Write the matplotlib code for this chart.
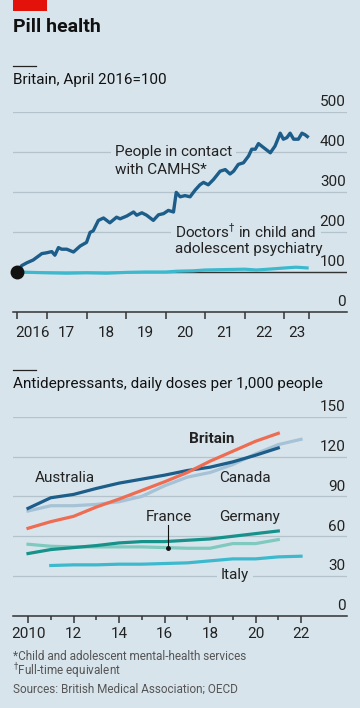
import matplotlib.pyplot as plt
from matplotlib.ticker import FixedLocator
import matplotlib.transforms as mtransforms

plt.rcParams['font.family'] = ['Liberation Sans Narrow', 'Roboto', 'DejaVu Sans']

BG = '#D8E4EC'
GRID = '#B4C2CB'
TXT = '#222222'

# --- top panel: Britain, April 2016 = 100
camhs_year = [2016.25, 2016.36, 2016.49, 2016.65, 2016.87, 2016.99, 2017.12, 2017.20, 2017.29,
              2017.37, 2017.50, 2017.67, 2017.84, 2018.00, 2018.09, 2018.17, 2018.30, 2018.43,
              2018.59, 2018.76, 2018.85, 2019.02, 2019.19, 2019.27, 2019.40, 2019.52, 2019.69,
              2019.82, 2019.95, 2020.07, 2020.20, 2020.27, 2020.37, 2020.49, 2020.62, 2020.75,
              2020.87, 2020.96, 2021.08, 2021.21, 2021.38, 2021.51, 2021.63, 2021.72, 2021.84,
              2021.97, 2022.10, 2022.18, 2022.27, 2022.35, 2022.48, 2022.65, 2022.77, 2022.90,
              2022.98, 2023.07, 2023.15, 2023.24, 2023.36, 2023.45, 2023.53, 2023.62]
camhs_val = [100, 116, 123, 130, 146, 148, 151, 142, 161,
             157, 157, 150, 165, 174, 199, 203, 229, 235,
             223, 237, 233, 240, 250, 242, 248, 242, 229,
             243, 246, 254, 250, 299, 288, 291, 288, 305,
             318, 324, 318, 331, 352, 356, 345, 352, 369,
             373, 390, 407, 407, 421, 411, 398, 415, 447,
             432, 436, 447, 432, 432, 447, 443, 436]

doctors_year = [2016.25, 2016.6, 2017.0, 2017.5, 2018.0, 2018.5, 2019.0, 2019.5, 2020.0,
                2020.3, 2020.7, 2021.0, 2021.5, 2022.0, 2022.3, 2022.6, 2023.0, 2023.3, 2023.62]
doctors_val = [100, 99, 98, 97, 98, 97, 99, 100, 100,
               102, 103, 105, 106, 107, 105, 107, 110, 112, 110]

top_yticks = [0, 100, 200, 300, 400, 500]
top_xticks = [2016.25, 2017, 2018, 2019, 2020, 2021, 2022, 2023, 2023.62]
top_xlabels = ['2016', '17', '18', '19', '20', '21', '22', '23']

# --- bottom panel: antidepressants, daily doses per 1,000 people
years = list(range(2010, 2023))
australia = [81, 89, 91.5, 96, 100, 103, 106, 109.5, 112, 116, 121, 126.5]
canada = [79, 83, 83, 84, 86, 90, 98, 104.5, 108, 114, 122, 129, 133]
britain = [66, 71, 75, 82, 88, 94.5, 101, 108, 116.5, 124, 131.5, 137.5]
germany = [47, 50, 51.5, 53, 55, 56, 56, 57, 58, 60, 62, 64]
france = [54, 52.5, 52, 52, 52, 52, 51.5, 51, 51, 54.5, 54.5, 57.5]
italy_years = list(range(2011, 2023))
italy = [38, 38.5, 38.5, 39, 39, 39.5, 40, 41.5, 43, 43, 44.5, 45]

bot_yticks = [0, 30, 60, 90, 120, 150]
bot_xticks = [2010, 2012, 2014, 2016, 2018, 2020, 2022]
bot_xlabels = ['2010', '12', '14', '16', '18', '20', '22']

W, H = 360, 708
fig = plt.figure(figsize=(W / 100, H / 100), dpi=100, facecolor=BG)


def px(x, y):
    return x / W, 1 - y / H


def style_axis(ax, yticks):
    ax.set_facecolor(BG)
    ax.patch.set_alpha(0)
    for s in ['left', 'right', 'top']:
        ax.spines[s].set_visible(False)
    ax.spines['bottom'].set_color('#333333')
    ax.spines['bottom'].set_linewidth(1.1)
    ax.spines['bottom'].set_zorder(5)
    ax.set_yticks(yticks)
    ax.tick_params(axis='y', length=0, labelleft=False)
    ax.grid(axis='y', color=GRID, linewidth=0.9, zorder=0)
    ax.set_axisbelow(True)
    tr = mtransforms.blended_transform_factory(ax.transAxes, ax.transData)
    off = mtransforms.offset_copy(tr, fig=fig, x=-1, y=2, units='points')
    for v in yticks:
        ax.text(1.0, v, str(v), transform=off, ha='right', va='bottom',
                fontsize=11, color=TXT)


# top chart
ax1 = fig.add_axes([13 / W, 1 - 312 / H, 334 / W, 200 / H])
style_axis(ax1, top_yticks)
ax1.set_ylim(0, 500)
ax1.set_xlim(2016.14, 2024.59)
ax1.axhline(100, color='#333333', linewidth=1.0, zorder=1)
ax1.plot(doctors_year, doctors_val, color='#3DB9CE', linewidth=2.3, zorder=3,
         solid_capstyle='butt')
ax1.plot(camhs_year, camhs_val, color='#1C5D8A', linewidth=2.4, zorder=4,
         solid_capstyle='butt')
ax1.plot([2016.25], [100], 'o', color='#111111', markersize=9, zorder=6, clip_on=False)
ax1.xaxis.set_major_locator(FixedLocator(top_xticks))
ax1.xaxis.set_minor_locator(FixedLocator(
    [(top_xticks[i] + top_xticks[i + 1]) / 2 for i in range(len(top_xticks) - 1)]))
ax1.set_xticklabels([], minor=False)
ax1.set_xticklabels(top_xlabels, minor=True)
ax1.tick_params(axis='x', which='major', length=5, width=1.1, color='#333333')
ax1.tick_params(axis='x', which='minor', length=0, pad=10, labelsize=11, labelcolor=TXT)

ax1.text(2018.72, 400, 'People in contact', fontsize=11, color=TXT, va='center',
         ha='left', zorder=2,
         bbox=dict(facecolor=BG, edgecolor='none', pad=3))
ax1.text(2018.72, 355, 'with CAMHS*', fontsize=11, color=TXT, va='center', ha='left')
ax1.text(2020.24, 200, 'Doctors$^{\\dagger}$ in child and', fontsize=11, color=TXT,
         va='center', ha='left', zorder=2,
         bbox=dict(facecolor=BG, edgecolor='none', pad=3))
ax1.text(2020.24, 157, 'adolescent psychiatry', fontsize=11, color=TXT,
         va='center', ha='left')

# bottom chart
ax2 = fig.add_axes([13 / W, 1 - 616 / H, 334 / W, 199.3 / H])
style_axis(ax2, bot_yticks)
ax2.set_ylim(0, 150)
ax2.set_xlim(2009.34, 2024.02)
lw = 2.3
ax2.plot(italy_years, italy, color='#3DB9CE', linewidth=lw, zorder=3)
ax2.plot(years[:len(france)], france, color='#7FC9BE', linewidth=lw, zorder=3)
ax2.plot(years[:len(germany)], germany, color='#16928A', linewidth=lw, zorder=3)
ax2.plot(years[:len(canada)], canada, color='#A6C2D6', linewidth=lw, zorder=3)
ax2.plot(years[:len(australia)], australia, color='#1C5D8A', linewidth=lw, zorder=3)
ax2.plot(years[:len(britain)], britain, color='#EE6C52', linewidth=lw, zorder=4)
ax2.xaxis.set_major_locator(FixedLocator(bot_xticks))
ax2.xaxis.set_minor_locator(FixedLocator(list(range(2011, 2022, 2))))
ax2.set_xticklabels(bot_xlabels)
ax2.tick_params(axis='x', which='major', length=5, width=1.1, color='#333333',
                pad=3, labelsize=11, labelcolor=TXT)
ax2.tick_params(axis='x', which='minor', length=3, width=1.1, color='#333333')

ax2.text(2018.07, 133.3, 'Britain', fontsize=11, fontweight='bold', color=TXT,
         ha='center', va='center')
ax2.text(2011.63, 104, 'Australia', fontsize=11, color=TXT, ha='center', va='center')
ax2.text(2019.52, 104, 'Canada', fontsize=11, color=TXT, ha='center', va='center')
ax2.text(2016.18, 74.5, 'France', fontsize=11, color=TXT, ha='center', va='center')
ax2.text(2019.74, 74.5, 'Germany', fontsize=11, color=TXT, ha='center', va='center')
ax2.text(2019.1, 30.5, 'Italy', fontsize=11, color=TXT, ha='center', va='center',
         zorder=2, bbox=dict(facecolor=BG, edgecolor='none', pad=3))
ax2.plot([2016.17, 2016.17], [68.5, 51.5], color='#111111', linewidth=0.8, zorder=5)
ax2.plot([2016.17], [51.5], 'o', color='#111111', markersize=2.5, zorder=5)

# header, subtitles, footnotes
fig.patches.append(plt.Rectangle(px(13, 10.5), 34 / W, 10.5 / H, transform=fig.transFigure,
                                 facecolor='#E3120B', edgecolor='none'))
fig.text(*px(13, 27), 'Pill health', fontsize=14, fontweight='bold', color='#111111',
         va='center', ha='left')
for y_rule, y_txt, label in [(66, 80, 'Britain, April 2016=100'),
                             (370, 384, 'Antidepressants, daily doses per 1,000 people')]:
    fig.add_artist(plt.Line2D([13 / W, 36 / W], [1 - y_rule / H] * 2, color='#222222',
                              linewidth=0.9, transform=fig.transFigure))
    fig.text(*px(13, y_txt), label, fontsize=11, color='#111111', va='center', ha='left')

fig.text(*px(13, 656), '*Child and adolescent mental-health services', fontsize=8.5,
         color='#555555', va='center')
fig.text(*px(13, 671), '$^{\\dagger}$Full-time equivalent', fontsize=8.5,
         color='#555555', va='center')
fig.text(*px(13, 689), 'Sources: British Medical Association; OECD', fontsize=8.5,
         color='#555555', va='center')

fig.savefig('out.png', dpi=100, facecolor=BG)
